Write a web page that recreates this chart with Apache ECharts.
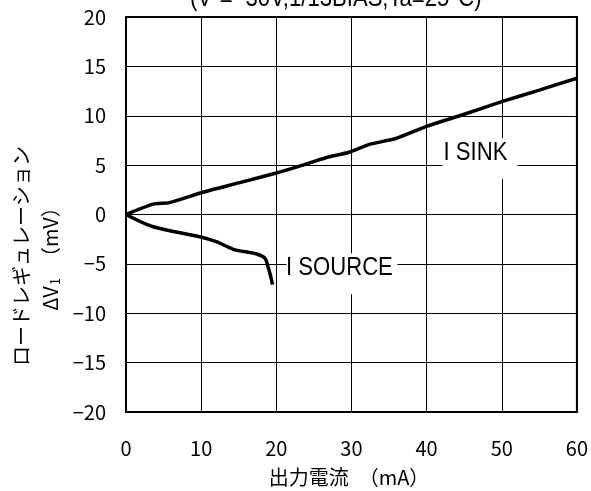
<!DOCTYPE html>
<html>
<head>
<meta charset="utf-8">
<script src="https://cdn.jsdelivr.net/npm/echarts@6/dist/echarts.min.js"></script>
<style>
  html, body { margin: 0; padding: 0; background: #fff; }
  #chart { width: 591px; height: 491px; }
</style>
</head>
<body>
<div id="chart"></div>
<script>
// Load regulation vs. output current
const sinkCurrent = [0, 3.6, 5.8, 10, 15, 20, 23.1, 26.6, 29.7, 32.4, 35.9, 39.9, 44.8, 49.9, 55, 60];
const sinkDelta   = [0, 1.05, 1.2, 2.2, 3.2, 4.2, 4.9, 5.75, 6.3, 7.1, 7.7, 8.9, 10.1, 11.4, 12.6, 13.8];
const sourceCurrent = [0, 3.6, 9.8, 12.0, 14.2, 15.6, 17.4, 18.5, 18.9, 19.2, 19.5];
const sourceDelta   = [0, -1.24, -2.25, -2.75, -3.5, -3.75, -4.0, -4.45, -5.3, -6.1, -7.1];

const xTicks = { min: 0, max: 60, step: 10 };
const yTicks = { min: -20, max: 20, step: 5 };

const titleText = '(V\u207B=\u221230V,1/13BIAS,Ta=25\u00B0C)';
const xName = '出力電流\u3000（mA）';
const yName1 = 'ロードレギュレーション';
const yName2 = ['\u0394V', '1', '\u3000（mV）'];
const sinkName = 'I SINK';
const sourceName = 'I SOURCE';

const pair = (xs, ys) => xs.map((x, i) => [x, ys[i]]);
const minusFmt = v => String(v).replace('-', '\u2212');
const jp = 'Noto Sans CJK JP';
const latin = 'Liberation Sans';

const chart = echarts.init(document.getElementById('chart'), null, { renderer: 'canvas' });

chart.setOption({
  animation: false,
  backgroundColor: '#fff',
  grid: { left: 126, right: 13, top: 17, bottom: 79 },
  xAxis: {
    type: 'value', min: xTicks.min, max: xTicks.max, interval: xTicks.step,
    axisLine: { show: false },
    axisTick: { show: false },
    splitLine: { show: true, lineStyle: { color: '#000', width: 1 } },
    axisLabel: { color: '#000', fontSize: 20, fontFamily: jp, margin: 26, formatter: minusFmt }
  },
  yAxis: {
    type: 'value', min: yTicks.min, max: yTicks.max, interval: yTicks.step,
    axisLine: { show: false },
    axisTick: { show: false },
    splitLine: { show: true, lineStyle: { color: '#000', width: 1 } },
    axisLabel: { color: '#000', fontSize: 20, fontFamily: jp, margin: 20, formatter: minusFmt }
  },
  series: [
    {
      name: sinkName, type: 'line', data: pair(sinkCurrent, sinkDelta),
      showSymbol: false, smooth: 0.2, z: 5,
      lineStyle: { color: '#000', width: 3.5 }
    },
    {
      name: sourceName, type: 'line', data: pair(sourceCurrent, sourceDelta),
      showSymbol: false, smooth: 0.3, z: 5,
      lineStyle: { color: '#000', width: 3.5 }
    }
  ]
});

// Frame, curve labels and titles, positioned through the axes' coordinate mapping
function curveLabel(text, pos, box) {
  return [
    { type: 'rect', z: 6, silent: true,
      shape: { x: pos[0] + box[0], y: pos[1] + box[1], width: box[2], height: box[3] },
      style: { fill: '#fff' } },
    { type: 'text', z: 7, x: pos[0], y: pos[1], scaleX: 0.85, silent: true,
      style: { text: text, fill: '#000', fontFamily: latin, fontSize: 26,
               align: 'center', verticalAlign: 'middle' } }
  ];
}

function drawOverlay() {
  const p = (x, y) => chart.convertToPixel({ gridIndex: 0 }, [x, y]);
  const tl = p(xTicks.min, yTicks.max), br = p(xTicks.max, yTicks.min);
  const sinkPos = p(46.5, 6.2);
  const srcPos = p(28.4, -5.44);
  chart.setOption({
    graphic: [
      { type: 'rect', z: 10, silent: true,
        shape: { x: tl[0], y: tl[1], width: br[0] - tl[0], height: br[1] - tl[1] },
        style: { fill: null, stroke: '#000', lineWidth: 2 } },
      ...curveLabel(sinkName, sinkPos, [-33, -15, 75, 41]),
      ...curveLabel(sourceName, srcPos, [-53, -15, 111, 41]),
      { type: 'text', z: 7, x: 190, y: -1.5, scaleX: 0.85, silent: true,
        style: { text: titleText, fill: '#000', fontFamily: latin, fontSize: 26,
                 align: 'left', verticalAlign: 'middle' } },
      { type: 'text', z: 7, x: 349, y: 477, silent: true,
        style: { text: xName, fill: '#000', fontFamily: jp, fontSize: 20,
                 align: 'center', verticalAlign: 'middle' } },
      { type: 'text', z: 7, x: 21, y: 256, rotation: Math.PI / 2, silent: true,
        style: { text: yName1, fill: '#000', fontFamily: jp, fontSize: 20,
                 align: 'center', verticalAlign: 'middle' } },
      { type: 'text', z: 7, x: 50, y: 254, rotation: Math.PI / 2, silent: true,
        style: { text: '{a|' + yName2[0] + '}{s|' + yName2[1] + '}{a|' + yName2[2] + '}',
                 fill: '#000', fontFamily: jp, fontSize: 20,
                 align: 'center', verticalAlign: 'middle',
                 rich: {
                   a: { fontFamily: jp, fontSize: 20, lineHeight: 24, fill: '#000' },
                   s: { fontFamily: jp, fontSize: 13, lineHeight: 24, verticalAlign: 'bottom',
                        padding: [0, 1, 0, 1], fill: '#000' }
                 } } }
    ]
  });
}
drawOverlay();
</script>
</body>
</html>
